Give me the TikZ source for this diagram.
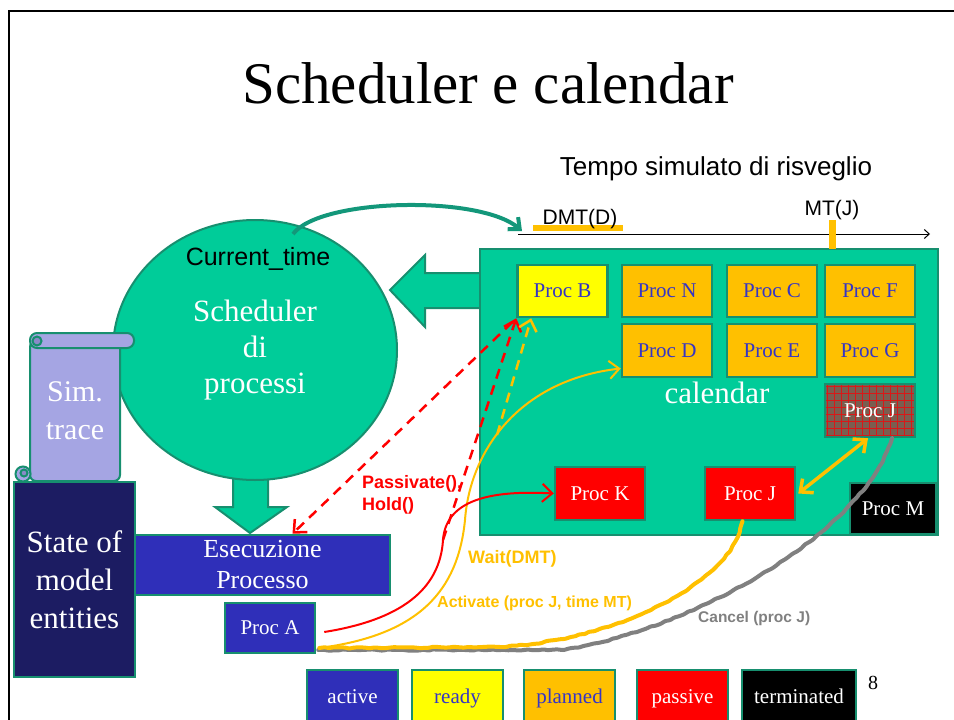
\documentclass[tikz,border=0pt]{standalone}
\usepackage{fontspec}
\setmainfont{Liberation Serif}
\newfontfamily\arialf{Liberation Sans}
\usetikzlibrary{arrows.meta,shapes.geometric,decorations.pathmorphing}
\definecolor{gfill}{HTML}{00CC99}
\definecolor{gbord}{HTML}{178F6F}
\definecolor{garc}{HTML}{13977A}
\definecolor{pblue}{HTML}{2F2FB9}
\definecolor{navy}{HTML}{1C1C62}
\definecolor{porange}{HTML}{FFC000}
\definecolor{pyellow}{HTML}{FFFF00}
\definecolor{pred}{HTML}{FF0000}
\definecolor{lav}{HTML}{A5A5E3}
\definecolor{lavd}{HTML}{8A8AC8}
\definecolor{ptext}{HTML}{3535C5}
\definecolor{hbase}{HTML}{7A5E50}
\definecolor{hline}{HTML}{D81818}
\definecolor{cgray}{HTML}{808080}
\begin{document}
\begin{tikzpicture}[x=1pt,y=-1pt,
  pbox/.style={draw=gbord,line width=2.5pt,inner sep=0pt,minimum width=90pt,minimum height=52pt,font=\fontsize{21}{24}\selectfont},
  plannedb/.style={pbox,fill=porange,text=ptext},
  readyb/.style={pbox,fill=pyellow,text=ptext},
  passiveb/.style={pbox,fill=pred,text=white},
  activeb/.style={pbox,fill=pblue,text=white},
  termb/.style={pbox,fill=black,text=white},
  legendb/.style={minimum width=91pt,minimum height=56pt,text height=15pt,text depth=5pt},
  lbl/.style={font=\arialf\bfseries\fontsize{18}{20}\selectfont,inner sep=0pt,anchor=base west},
  openhead/.style={-{Straight Barb[length=10pt,width=18pt]}},
  dashline/.style={line width=2.5pt,dash pattern=on 10pt off 7pt},
  wobble/.style={decorate,decoration={random steps,segment length=5pt,amplitude=0.7pt},rounded corners=1pt,line cap=round,line join=round}
]
\useasboundingbox (0,0) rectangle (954,720);

% frame
\draw[line width=2.5pt] (954,11) -- (9,11) -- (9,720);

% titles
\node[font=\fontsize{59}{66}\selectfont,anchor=base,inner sep=0pt] (title) at (488,103) {Scheduler e calendar};
\node[font=\arialf\fontsize{26}{30}\selectfont,anchor=base,inner sep=0pt] (tempo) at (716,175) {Tempo simulato di risveglio};

% big left arrow from calendar
\filldraw[fill=gfill,draw=gbord,line width=2pt] (482,273) -- (425,273) -- (425,255) -- (390,290) -- (425,327) -- (425,308) -- (482,308);

% calendar
\node[draw=gbord,line width=2.5pt,fill=gfill,minimum width=458pt,minimum height=286pt,inner sep=0pt] (cal) at (709,392) {};
\node[text=white,font=\fontsize{31}{36}\selectfont,anchor=base,inner sep=0pt] (calname) at (717,403) {calendar};

% time axis
\coordinate (tl0) at (518,234);
\coordinate (tl1) at (930,234);
\fill[porange] (533,225) rectangle (623,231);
\draw[line width=1pt,-{Straight Barb[length=5pt,width=9pt]}] (tl0) -- (tl1);
\node[font=\arialf\fontsize{21}{24}\selectfont,anchor=base,inner sep=0pt] (dmt) at (580,224) {DMT(D)};
\node[font=\arialf\fontsize{21}{24}\selectfont,anchor=base,inner sep=0pt] (mtj) at (832,215) {MT(J)};
\fill[porange] (829,220) rectangle (836,249);

% process boxes in calendar
\node[readyb] (B) at (562.5,291) {Proc B};
\node[plannedb] (N) at (667,291) {Proc N};
\node[plannedb] (C) at (772,291) {Proc C};
\node[plannedb] (F) at (870,291) {Proc F};
\node[plannedb,minimum height=53pt] (D) at (667,350.5) {Proc D};
\node[plannedb,minimum height=53pt] (E) at (772,350.5) {Proc E};
\node[plannedb,minimum height=53pt] (G) at (870,350.5) {Proc G};
\node[pbox,fill=hbase,text=white,minimum height=53pt,
  path picture={
    \foreach \k in {2,9,...,93} {\draw[hline,line width=0.7pt] ([xshift=\k pt]path picture bounding box.north west) -- ([xshift=\k pt]path picture bounding box.south west);}
    \foreach \k in {2,9,...,58} {\draw[hline,line width=0.7pt] ([yshift=-\k pt]path picture bounding box.north west) -- ([yshift=-\k pt]path picture bounding box.north east);}
  }] (HJ) at (870,410.5) {Proc J};
\node[passiveb,minimum height=53pt] (K) at (600,493.5) {Proc K};
\node[passiveb,minimum height=53pt] (J) at (750,493.5) {Proc J};
\node[termb,minimum width=86pt,minimum height=51pt] (M) at (893,508.5) {Proc M};

% down arrow from scheduler
\filldraw[fill=gfill,draw=gbord,line width=2pt] (233,460) -- (233,507) -- (215,507) -- (250,533) -- (287,507) -- (268,507) -- (268,460);

% scheduler
\node[ellipse,draw=gbord,line width=2pt,fill=gfill,minimum width=284pt,minimum height=260pt,inner sep=0pt] (S) at (255,350) {};
\node[font=\arialf\fontsize{25}{28}\selectfont,anchor=base,inner sep=0pt] (ctime) at (258,265) {Current\_time};
\node[text=white,align=center,font=\fontsize{31}{36}\selectfont,inner sep=0pt] (sname) at (255,350) {Scheduler\\di\\processi};

% arc to time axis
\coordinate (ct) at (293,234);
\draw[garc,line width=4pt,-{Straight Barb[length=9pt,width=16pt]}] (ct) .. controls (320,198) and (480,195) .. ([xshift=4pt,yshift=3pt]tl0);

% scroll
\begin{scope}[draw=gbord,line width=2pt]
  \filldraw[fill=lav,rounded corners=6pt] (30,341) -- (30,481) -- (120,481) -- (120,341) -- cycle;
  \filldraw[fill=lav] (23,474) circle (7.5);
  \filldraw[fill=lavd] (24,473) circle (3.5);
  \filldraw[fill=lav,rounded corners=7pt] (30,333) rectangle (134,348);
  \filldraw[fill=lavd] (37,341) circle (4.5);
\end{scope}
\node[text=white,align=center,font=\fontsize{30}{38}\selectfont,inner sep=0pt] (sim) at (75,411) {Sim.\\trace};

% state, execution, proc A
\node[draw=gbord,line width=2.5pt,fill=navy,text=white,minimum width=121pt,minimum height=195pt,inner sep=0pt,align=center,font=\fontsize{31}{38}\selectfont] (ST) at (74.5,579.5) {State of\\model\\entities};
\node[activeb,minimum width=255pt,minimum height=60pt,align=center,font=\fontsize{26}{31}\selectfont] (X) at (262.5,565) {Esecuzione\\Processo};
\node[activeb,minimum height=50pt] (A) at (270,628) {Proc A};

% connectors
\coordinate (rs) at (443,540);
\coordinate (od) at (497,435);
\draw[cgray,line width=4pt,wobble] ([xshift=2pt,yshift=-22pt]A.east) -- (563,650) .. controls (680,632) and (860,540) .. ([xshift=22pt]HJ.south);
\draw[porange,line width=4pt,wobble] ([xshift=3pt,yshift=-20pt]A.east) -- (500,647) .. controls (620,640) and (735,580) .. ([xshift=-8pt]J.south);
\draw[porange,line width=2pt,openhead] ([xshift=3pt,yshift=-20pt]A.east) .. controls (420,635) and (458,590) .. (465,520) .. controls (470,450) and (520,380) .. ([yshift=-18pt]D.west);
\draw[pred,line width=2pt,openhead] ([xshift=8pt,yshift=-4pt]A.east) .. controls (400,620) and (440,590) .. (rs) .. controls (446,500) and (490,490) .. (K.west);
\draw[pred,dashline,openhead] (rs) -- (B.south west);
\draw[pred,dashline,openhead] ([xshift=-4pt,yshift=-4pt]B.south west) -- ([xshift=30pt]X.north);
\draw[porange,dashline,openhead] (od) -- ([xshift=15pt]B.south west);
\draw[porange,line width=3.5pt,{Straight Barb[length=10pt,width=18pt]}-{Straight Barb[length=10pt,width=18pt]}] ([xshift=2pt]J.east) -- ([xshift=-2pt]HJ.south);

% labels
\node[lbl,text=pred] (lpass) at (362,488) {Passivate(),};
\node[lbl,text=pred] (lhold) at (362,510) {Hold()};
\node[lbl,text=porange] (lwait) at (468,563) {Wait(DMT)};
\node[lbl,text=porange,font=\arialf\bfseries\fontsize{16}{18}\selectfont] (lact) at (437,607) {Activate (proc J, time MT)};
\node[lbl,text=cgray,font=\arialf\bfseries\fontsize{15.5}{18}\selectfont] (lcan) at (698,622) {Cancel (proc J)};

% legend
\node[activeb,legendb] (lg1) at (352.5,698) {active};
\node[readyb,legendb] (lg2) at (457.5,698) {ready};
\node[plannedb,legendb] (lg3) at (569.5,698) {planned};
\node[passiveb,legendb] (lg4) at (682.5,698) {passive};
\node[termb,legendb,minimum width=114pt] (lg5) at (799,698) {terminated};
\node[font=\fontsize{20}{24}\selectfont,inner sep=0pt] (pg) at (873,683) {8};
\end{tikzpicture}
\end{document}
